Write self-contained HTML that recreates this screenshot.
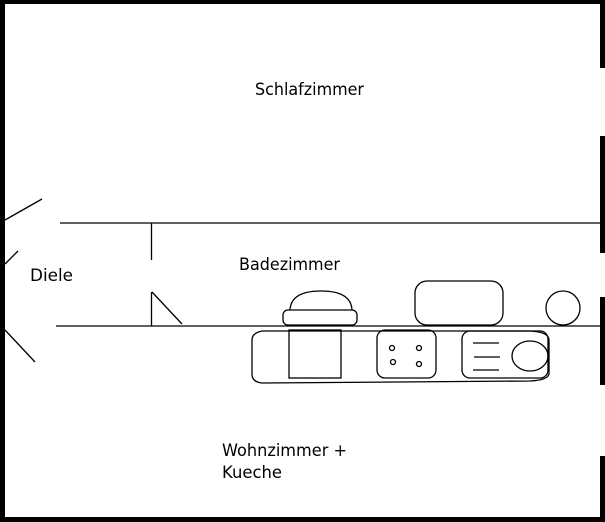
<!DOCTYPE html>
<html><head><style>html,body{margin:0;padding:0;background:#fff}svg{display:block}</style></head>
<body>
<svg width="605" height="522" viewBox="0 0 605 522" xmlns="http://www.w3.org/2000/svg">
<rect width="605" height="522" fill="#fff"/>
<g fill="#000">
<rect x="0" y="0" width="605" height="4"/>
<rect x="0" y="517" width="605" height="5"/>
<rect x="0" y="0" width="5" height="522"/>
<rect x="600" y="0" width="5" height="68"/>
<rect x="600" y="136" width="5" height="117"/>
<rect x="600" y="297" width="5" height="88"/>
<rect x="600" y="456" width="5" height="66"/>
</g>
<g stroke="#000" stroke-width="1.3" fill="none">
<line x1="60" y1="223" x2="600" y2="223"/>
<line x1="56" y1="326" x2="600" y2="326"/>
<line x1="151.5" y1="223" x2="151.5" y2="260"/>
<line x1="151.5" y1="292" x2="151.5" y2="326"/>
<line x1="152" y1="292" x2="182" y2="324"/>
<line x1="5" y1="220" x2="42" y2="199"/>
<line x1="5" y1="264" x2="18" y2="251"/>
<line x1="5" y1="330" x2="35" y2="362"/>
<path d="M290 310 Q291 291 321 291 Q351 291 352 310"/>
<rect x="283" y="310" width="74" height="15" rx="5"/>
<rect x="415" y="281" width="88" height="44" rx="12"/>
<circle cx="563" cy="308" r="17"/>
<path d="M262 331 L530 331 Q549 332 549 340 L549 374 Q548 380 530 381 L262 383 Q252 382 252 374 L252 340 Q252 333 262 331 Z"/>
<rect x="289" y="330" width="52" height="48"/>
<rect x="377" y="330" width="59" height="48" rx="8"/>
<circle cx="392" cy="348" r="2.5"/><circle cx="419" cy="348" r="2.5"/>
<circle cx="393" cy="362" r="2.5"/><circle cx="419" cy="364" r="2.5"/>
<rect x="462" y="331" width="86" height="47" rx="8"/>
<line x1="473" y1="343" x2="499" y2="343"/>
<line x1="474" y1="357" x2="500" y2="357"/>
<line x1="473" y1="370" x2="499" y2="370"/>
<ellipse cx="530" cy="356" rx="18" ry="15"/>
</g>
<g font-family="DejaVu Sans, Liberation Sans, sans-serif" font-size="17" fill="#000">
<text x="255" y="95" textLength="109" lengthAdjust="spacingAndGlyphs">Schlafzimmer</text>
<text x="239" y="270" textLength="101" lengthAdjust="spacingAndGlyphs">Badezimmer</text>
<text x="30" y="281" textLength="43" lengthAdjust="spacingAndGlyphs">Diele</text>
<text x="222" y="456" textLength="125" lengthAdjust="spacingAndGlyphs">Wohnzimmer +</text>
<text x="222" y="478" textLength="60" lengthAdjust="spacingAndGlyphs">Kueche</text>
</g>
</svg>
</body></html>
